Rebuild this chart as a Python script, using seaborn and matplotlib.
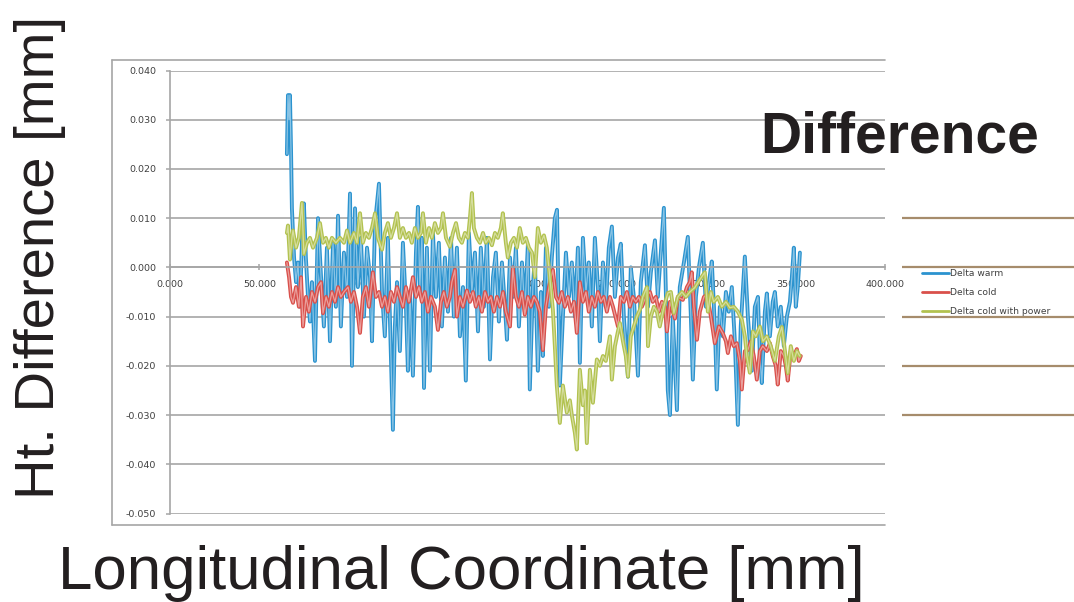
import matplotlib
matplotlib.use("Agg")
import numpy as np
import pandas as pd
import seaborn as sns
import matplotlib.pyplot as plt
from matplotlib import font_manager, patheffects as pe
from matplotlib.lines import Line2D
from matplotlib.colors import to_rgb
from matplotlib.transforms import blended_transform_factory

# ---------------------------------------------------------------- data
SERIES = ["Delta warm", "Delta cold", "Delta cold with power"]

warm_x = [
    65.4, 66.0, 66.6, 67.1, 67.7, 68.2, 69.4, 70.5, 71.6, 72.7,
    73.8, 74.9, 76.0, 77.2, 78.3, 79.4, 81.1, 82.8, 84.5, 86.1,
    87.8, 89.5, 91.2, 92.8, 94.0, 95.6, 97.3, 99.0, 100.7, 101.8,
    103.5, 105.1, 106.8, 108.5, 110.2, 111.9, 113.0, 114.7, 116.9, 118.6,
    120.2, 121.9, 123.0, 124.2, 124.7, 125.8, 127.0, 128.6, 130.3, 132.0,
    133.1, 134.2, 135.9, 137.6, 138.7, 139.8, 140.9, 142.1, 143.7, 145.4,
    147.1, 148.8, 150.4, 152.1, 153.8, 155.5, 157.2, 158.8, 160.5, 162.2,
    163.9, 165.5, 167.2, 168.9, 170.6, 172.3, 173.9, 175.6, 177.3, 179.0,
    180.7, 182.3, 184.0, 185.7, 187.4, 188.5, 190.2, 191.8, 193.5, 195.2,
    196.9, 198.5, 200.2, 201.3, 203.0, 204.1, 205.8, 207.5, 208.6, 210.3,
    212.0, 213.6, 215.3, 216.5, 218.1, 219.8, 221.5, 223.2, 224.8, 226.5,
    228.2, 229.3, 231.0, 232.7, 234.3, 236.0, 237.7, 239.4, 240.5, 242.2,
    243.8, 245.5, 247.2, 248.9, 250.6, 252.2, 253.9, 256.2, 257.8, 259.5,
    261.8, 263.4, 265.7, 267.4, 269.0, 271.3, 272.9, 274.6, 276.3, 277.4,
    278.5, 279.7, 281.3, 283.6, 285.2, 287.5, 289.7, 291.4, 292.5, 294.2,
    295.9, 298.1, 299.8, 301.5, 303.1, 304.8, 305.9, 307.6, 309.3, 311.0,
    312.6, 314.3, 316.0, 317.7, 319.3, 321.6, 323.3, 325.5, 327.2, 328.9,
    330.0, 331.1, 332.8, 333.9, 335.6, 337.2, 338.4, 340.0, 341.7, 343.4,
    345.1, 346.8, 347.9, 349.0, 350.1, 351.2, 352.4,
]
warm_y = [
    0.023, 0.035, 0.030, 0.035, 0.024, 0.012, 0.002, -0.003, 0.001, -0.008,
    0.005, 0.013, 0.002, -0.006, -0.011, -0.003, -0.019, 0.010, -0.002, -0.012,
    0.004, -0.015, 0.005, -0.008, 0.0105, -0.012, 0.003, -0.006, 0.015, -0.020,
    0.012, -0.004, 0.006, -0.010, 0.004, -0.002, -0.015, 0.009, 0.017, -0.005,
    -0.014, 0.006, -0.010, -0.026, -0.033, -0.012, -0.003, -0.017, 0.005, -0.008,
    -0.021, -0.005, -0.022, 0.003, 0.0123, -0.004, 0.006, -0.0245, 0.004, -0.021,
    0.007, -0.006, 0.005, -0.012, 0.002, -0.009, 0.006, -0.010, 0.004, -0.014,
    -0.004, -0.023, 0.007, -0.005, 0.003, -0.013, 0.004, -0.008, 0.006, -0.0187,
    -0.002, 0.003, -0.011, 0.001, -0.008, -0.0147, 0.002, -0.006, 0.004, -0.012,
    0.001, -0.009, 0.0045, -0.0248, -0.004, 0.002, -0.021, -0.005, -0.018, 0.004,
    -0.008, 0.002, 0.010, 0.0117, -0.024, -0.010, 0.003, -0.006, 0.001, -0.010,
    0.004, -0.0194, 0.006, -0.005, 0.001, -0.012, 0.006, -0.004, -0.015, 0.001,
    -0.008, 0.004, 0.0083, -0.006, 0.002, 0.0048, -0.010, -0.0222, 0.000, -0.006,
    -0.022, -0.003, 0.0045, -0.008, -0.001, 0.0055, -0.006, 0.003, 0.0121, -0.005,
    -0.025, -0.030, -0.010, -0.029, -0.004, 0.001, 0.0062, -0.010, -0.0228, -0.006,
    0.000, 0.005, -0.008, -0.003, 0.0012, -0.012, -0.0248, -0.008, -0.014, -0.005,
    -0.009, -0.004, -0.015, -0.032, -0.012, 0.0022, -0.010, -0.021, -0.008, -0.006,
    -0.018, -0.0235, -0.009, -0.0053, -0.014, -0.007, -0.005, -0.012, -0.008, -0.016,
    -0.010, -0.007, -0.002, 0.004, -0.008, -0.004, 0.003,
]

cold_x = [
    65.4, 66.6, 67.7, 68.8, 70.5, 72.1, 73.3, 74.4, 76.1, 77.7,
    79.4, 81.1, 82.8, 84.5, 85.6, 87.3, 88.9, 90.6, 92.3, 94.0,
    95.6, 97.3, 99.6, 101.2, 102.9, 104.6, 106.3, 107.9, 109.6, 111.3,
    113.5, 115.2, 116.9, 118.6, 120.2, 121.9, 123.6, 125.3, 127.0, 128.6,
    130.3, 132.0, 133.7, 135.9, 137.6, 139.3, 140.9, 142.6, 144.3, 146.0,
    148.2, 149.9, 151.6, 153.2, 154.9, 156.6, 157.7, 159.4, 160.5, 162.2,
    163.9, 166.1, 167.8, 169.5, 171.1, 172.8, 174.5, 176.2, 177.9, 179.5,
    181.2, 182.9, 184.6, 186.3, 187.9, 190.2, 191.8, 193.5, 195.2, 196.9,
    198.5, 200.2, 201.9, 203.6, 205.2, 206.9, 208.6, 210.3, 212.0, 214.2,
    215.9, 217.6, 219.2, 220.9, 222.6, 224.3, 226.0, 227.6, 229.3, 231.0,
    232.7, 234.3, 236.0, 237.7, 239.4, 241.1, 242.7, 244.4, 246.1, 247.8,
    250.6, 252.2, 253.9, 255.6, 257.3, 258.9, 260.6, 262.3, 264.0, 266.2,
    268.5, 270.1, 271.8, 273.5, 275.2, 276.9, 278.0, 279.7, 281.3, 282.5,
    284.1, 286.9, 289.2, 290.8, 291.9, 293.1, 294.8, 296.4, 298.7, 300.4,
    302.6, 304.8, 307.1, 309.3, 311.0, 312.1, 313.8, 315.4, 317.1, 318.8,
    319.9, 321.6, 323.3, 324.9, 326.6, 328.3, 330.0, 331.6, 333.9, 335.6,
    337.2, 338.9, 340.0, 341.7, 343.4, 344.5, 345.6, 347.3, 349.0, 350.7,
    351.8, 352.9,
]
cold_y = [
    0.001, -0.002, -0.006, -0.0072, -0.004, -0.008, -0.002, -0.012, -0.006, -0.009,
    -0.005, -0.007, -0.004, -0.003, -0.0093, -0.006, -0.008, -0.005, -0.007, -0.004,
    -0.006, -0.005, -0.004, -0.007, -0.005, -0.008, -0.0133, -0.006, -0.004, -0.008,
    -0.001, -0.006, -0.005, -0.008, -0.006, -0.009, -0.005, -0.007, -0.004, -0.006,
    -0.008, -0.004, -0.007, -0.002, -0.006, -0.004, -0.007, -0.005, -0.009, -0.006,
    -0.008, -0.0127, -0.007, -0.005, -0.008, -0.006, -0.003, -0.0005, -0.010, -0.006,
    -0.008, -0.0047, -0.007, -0.005, -0.008, -0.006, -0.009, -0.005, -0.007, -0.006,
    -0.009, -0.006, -0.008, -0.005, -0.009, -0.012, 0.000, -0.006, -0.008, -0.005,
    -0.0096, -0.006, -0.008, -0.006, -0.007, -0.009, -0.0168, -0.008, -0.004, -0.0005,
    -0.006, -0.0072, -0.005, -0.008, -0.006, -0.009, -0.007, -0.0133, -0.003, -0.007,
    -0.005, -0.009, -0.006, -0.008, -0.005, -0.007, -0.006, -0.009, -0.006, -0.008,
    -0.012, -0.006, -0.007, -0.005, -0.008, -0.006, -0.007, -0.006, -0.008, -0.006,
    -0.005, -0.007, -0.006, -0.009, -0.007, -0.008, -0.013, -0.007, -0.009, -0.0104,
    -0.006, -0.0066, -0.004, -0.003, -0.001, -0.008, -0.0147, -0.009, -0.006, -0.0055,
    -0.010, -0.0154, -0.012, -0.0134, -0.015, -0.0174, -0.014, -0.016, -0.0154, -0.019,
    -0.0248, -0.017, -0.0168, -0.015, -0.018, -0.0228, -0.017, -0.016, -0.017, -0.0154,
    -0.018, -0.020, -0.0238, -0.017, -0.018, -0.020, -0.023, -0.017, -0.018, -0.0166,
    -0.019, -0.018,
]

power_x = [
    65.4, 66.0, 67.1, 68.2, 68.8, 70.5, 72.1, 73.8, 74.9, 76.6,
    78.3, 80.0, 82.2, 83.9, 85.6, 87.2, 88.9, 90.6, 92.8, 95.1,
    97.3, 99.0, 100.7, 102.9, 104.6, 106.3, 107.9, 109.6, 111.3, 113.0,
    114.7, 116.3, 118.6, 120.2, 121.9, 123.6, 125.3, 127.0, 128.6, 130.3,
    132.0, 133.7, 135.3, 137.0, 138.7, 140.4, 141.5, 143.2, 144.9, 146.5,
    148.2, 149.9, 151.6, 152.7, 154.4, 156.6, 158.3, 160.0, 161.6, 163.3,
    165.0, 166.7, 167.8, 168.9, 170.0, 171.7, 173.4, 175.1, 176.7, 178.4,
    180.1, 181.8, 183.4, 185.1, 186.2, 187.9, 189.0, 190.7, 192.4, 194.1,
    195.7, 197.4, 199.1, 200.8, 202.5, 204.1, 205.8, 207.5, 209.2, 210.8,
    212.5, 214.2, 215.3, 216.4, 218.1, 219.8, 222.0, 223.7, 224.8, 226.5,
    227.6, 229.3, 231.0, 232.1, 233.2, 234.9, 236.6, 238.8, 240.5, 242.2,
    243.8, 246.1, 247.2, 248.9, 250.6, 251.7, 253.4, 255.0, 256.2, 257.8,
    259.5, 261.2, 262.9, 264.5, 265.7, 266.8, 267.4, 269.0, 270.7, 272.4,
    274.0, 276.3, 278.5, 280.2, 281.9, 284.1, 286.4, 288.6, 290.8, 293.6,
    296.4, 299.2, 300.9, 302.6, 304.2, 306.5, 308.7, 311.0, 313.2, 315.4,
    317.7, 319.9, 321.6, 322.7, 324.4, 326.1, 327.7, 330.0, 331.7, 333.9,
    336.1, 338.4, 340.6, 342.3, 344.0, 345.6, 347.3, 349.0, 350.7, 352.3,
]
power_y = [
    0.007, 0.0085, 0.0016, 0.006, 0.0075, 0.004, 0.006, 0.0131, 0.0027, 0.005,
    0.006, 0.004, 0.006, 0.009, 0.005, 0.006, 0.004, 0.006, 0.005, 0.006,
    0.005, 0.0075, 0.005, 0.007, 0.005, 0.011, 0.005, 0.007, 0.006, 0.008,
    0.011, 0.006, 0.0036, 0.007, 0.009, 0.006, 0.008, 0.011, 0.006, 0.008,
    0.006, 0.007, 0.005, 0.008, 0.006, 0.007, 0.011, 0.005, 0.008, 0.006,
    0.009, 0.007, 0.008, 0.011, 0.006, 0.0042, 0.007, 0.009, 0.006, 0.005,
    0.007, 0.006, 0.010, 0.0151, 0.008, 0.006, 0.005, 0.007, 0.005, 0.006,
    0.0045, 0.007, 0.006, 0.008, 0.011, 0.005, 0.002, 0.005, 0.006, 0.004,
    0.008, 0.005, 0.006, 0.004, 0.003, -0.002, 0.008, 0.005, 0.0065, 0.004,
    -0.002, -0.0086, -0.016, -0.024, -0.0316, -0.024, -0.0295, -0.027, -0.030, -0.0336,
    -0.037, -0.0208, -0.028, -0.025, -0.0357, -0.0208, -0.0275, -0.0187, -0.020, -0.018,
    -0.019, -0.014, -0.0228, -0.016, -0.013, -0.0113, -0.015, -0.018, -0.0222, -0.014,
    -0.012, -0.010, -0.0086, -0.006, -0.005, -0.004, -0.016, -0.010, -0.008, -0.009,
    -0.012, -0.008, -0.0052, -0.005, -0.0093, -0.006, -0.005, -0.006, -0.005, -0.0041,
    -0.0025, -0.001, -0.009, -0.005, -0.007, -0.006, -0.008, -0.007, -0.0082, -0.008,
    -0.009, -0.0106, -0.014, -0.018, -0.0214, -0.013, -0.014, -0.012, -0.015, -0.014,
    -0.016, -0.019, -0.014, -0.0121, -0.017, -0.0215, -0.016, -0.019, -0.017, -0.018,
]

X_TICKS = [0, 50, 100, 150, 200, 250, 300, 350, 400]
Y_TICKS = [-0.05, -0.04, -0.03, -0.02, -0.01, 0.0, 0.01, 0.02, 0.03, 0.04]
SIDE_LEVELS = [0.01, 0.0, -0.01, -0.02, -0.03]

TITLE = "Difference"
X_LABEL = "Longitudinal Coordinate [mm]"
Y_LABEL = "Ht. Difference [mm]"

# ---------------------------------------------------------------- style
COLORS = ["#2b93cf", "#d9504b", "#b2c24f"]
GRID = "#a6a6a6"
BROWN = "#a68c6c"
DARK = "#231f20"
TICK_TXT = "#404040"

sns.set_theme(style="white")
available = {f.name for f in font_manager.fontManager.ttflist}
narrow = "Liberation Sans Narrow" in available
BIG_FAMILY = "Liberation Sans Narrow" if narrow else "Liberation Sans"
TITLE_SIZE, XLABEL_SIZE, YLABEL_SIZE = (50, 52, 49) if narrow else (41, 44.5, 40.5)
plt.rcParams["font.family"] = ["DejaVu Sans"]


def tint(color, amount=0.5):
    r, g, b = to_rgb(color)
    return (r + (1 - r) * amount, g + (1 - g) * amount, b + (1 - b) * amount)


df = pd.concat(
    [
        pd.DataFrame({"x": warm_x, "y": warm_y, "series": SERIES[0]}),
        pd.DataFrame({"x": cold_x, "y": cold_y, "series": SERIES[1]}),
        pd.DataFrame({"x": power_x, "y": power_y, "series": SERIES[2]}),
    ],
    ignore_index=True,
)

W, H = 1074, 602
fig = plt.figure(figsize=(W / 100, H / 100), dpi=100)
fig.patch.set_facecolor("white")
ax = fig.add_axes([170 / W, 1 - 513.5 / H, 715 / W, 443 / H])
ax.patch.set_alpha(0)

sns.lineplot(
    data=df, x="x", y="y", hue="series", hue_order=SERIES,
    palette=COLORS, estimator=None, sort=False, legend=False,
    linewidth=0.9, ax=ax,
)
# outlined strokes: coloured edge with a lighter core
for line, color in zip(ax.lines, COLORS):
    line.set_color(tint(color, 0.45))
    line.set_path_effects([pe.Stroke(linewidth=2.8, foreground=color), pe.Normal()])

ax.set_xlim(0, 400)
ax.set_ylim(-0.05, 0.04)
ax.set_xlabel("")
ax.set_ylabel("")
ax.set_xticks(X_TICKS)
ax.set_xticklabels([f"{v:.3f}" for v in X_TICKS])
ax.set_yticks(Y_TICKS)
ax.set_yticklabels([f"{v:.3f}" for v in Y_TICKS])

ax.grid(axis="y", color=GRID, linewidth=1.2)
ax.grid(axis="x", visible=False)
ax.set_axisbelow(True)
for side in ("top", "right"):
    ax.spines[side].set_visible(False)
ax.spines["left"].set_color(GRID)
ax.spines["left"].set_linewidth(1.2)
ax.spines["bottom"].set_position(("data", 0))
ax.spines["bottom"].set_color(GRID)
ax.spines["bottom"].set_linewidth(1.2)

ax.tick_params(axis="y", left=True, length=3, width=1.1, color=GRID, pad=7,
               labelsize=6.8, labelcolor=TICK_TXT)
ax.tick_params(axis="x", bottom=True, direction="inout", length=4.5, width=1.1,
               color=GRID, pad=7, labelsize=6.8, labelcolor=TICK_TXT)

# outer frame of the chart area
frame_kw = dict(transform=fig.transFigure, color=GRID, linewidth=1.2)
fig.add_artist(Line2D([112 / W, 885 / W], [1 - 60 / H] * 2, **frame_kw))
fig.add_artist(Line2D([112 / W, 885 / W], [1 - 525 / H] * 2, **frame_kw))
fig.add_artist(Line2D([112 / W, 112 / W], [1 - 60 / H, 1 - 525 / H], **frame_kw))

# tan reference rules to the right of the plot, at the grid levels
side_tr = blended_transform_factory(fig.transFigure, ax.transData)
for level in SIDE_LEVELS:
    ax.plot([902 / W, 1.0], [level, level], transform=side_tr, color=BROWN,
            linewidth=1.6, clip_on=False, solid_capstyle="butt")

# legend
handles = [Line2D([], [], color=c, linewidth=2.0) for c in COLORS]
fig.legend(handles, SERIES, loc="center left",
           bbox_to_anchor=(922 / W, 1 - 292.5 / H), frameon=False,
           fontsize=6.6, labelcolor=TICK_TXT, handlelength=2.95,
           handletextpad=0.1, labelspacing=1.1, borderpad=0, borderaxespad=0)

# titles
fig.text(760 / W, 1 - 153 / H, TITLE, family=BIG_FAMILY, fontweight="bold",
         fontsize=TITLE_SIZE, color=DARK, ha="left", va="baseline")
fig.text(461 / W, 1 - 589 / H, X_LABEL, family=BIG_FAMILY,
         fontsize=XLABEL_SIZE, color=DARK, ha="center", va="baseline")
fig.text(40 / W, 1 - 257.5 / H, Y_LABEL, family=BIG_FAMILY, rotation=90,
         fontsize=YLABEL_SIZE, color=DARK, ha="center", va="center")

fig.savefig("out.png", dpi=100, facecolor="white")
